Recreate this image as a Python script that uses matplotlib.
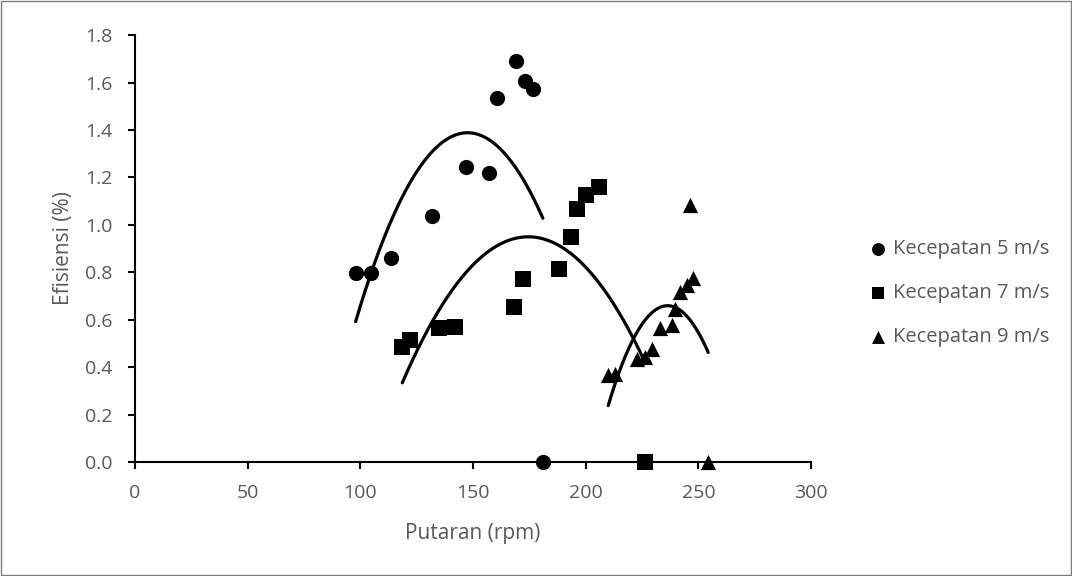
import numpy as np
import matplotlib.pyplot as plt

# data
rpm_5 = [97.9, 104.7, 113.7, 131.8, 147.1, 157.2, 160.6, 169.0, 173.0, 176.6, 181.0]
eff_5 = [0.797, 0.797, 0.861, 1.038, 1.245, 1.217, 1.535, 1.690, 1.606, 1.572, 0.0]

rpm_7 = [118.6, 122.1, 135.0, 142.0, 168.1, 172.3, 188.1, 193.4, 196.1, 200.1, 205.7, 226.3]
eff_7 = [0.483, 0.513, 0.563, 0.570, 0.654, 0.771, 0.813, 0.947, 1.068, 1.125, 1.158, 0.0]

rpm_9 = [210.0, 213.0, 222.6, 226.3, 229.5, 232.9, 238.1, 239.6, 241.8, 244.8, 247.7, 246.2, 254.4]
eff_9 = [0.366, 0.370, 0.436, 0.443, 0.478, 0.563, 0.577, 0.647, 0.717, 0.746, 0.774, 1.083, 0.0]

labels = ["Kecepatan 5 m/s", "Kecepatan 7 m/s", "Kecepatan 9 m/s"]
markers = ["o", "s", "^"]

plt.rcParams["font.family"] = ["Open Sans", "DejaVu Sans"]
gray = "#595959"

fig = plt.figure(figsize=(10.72, 5.76), dpi=100)
ax = fig.add_axes([0.126, 0.198, 0.6305, 0.741])

series = [(rpm_5, eff_5), (rpm_7, eff_7), (rpm_9, eff_9)]
handles = []
for (x, y), m, lab in zip(series, markers, labels):
    h = ax.scatter(x, y, marker=m, s=120, color="black", label=lab,
                   clip_on=False, zorder=3, linewidths=0)
    handles.append(h)
    # second order polynomial trendline
    coef = np.polyfit(x, y, 2)
    xs = np.linspace(min(x), max(x), 200)
    ax.plot(xs, np.polyval(coef, xs), color="black", lw=2.3, zorder=4,
            solid_capstyle="round")

ax.set_xlim(0, 300)
ax.set_ylim(0, 1.8)
ax.set_xticks(np.arange(0, 301, 50))
ax.set_yticks(np.arange(0, 1.81, 0.2))
ax.set_yticklabels([f"{v:.1f}" for v in np.arange(0, 1.81, 0.2)])
ax.spines["top"].set_visible(False)
ax.spines["right"].set_visible(False)
for s in ["left", "bottom"]:
    ax.spines[s].set_linewidth(1.5)
ax.tick_params(direction="out", length=5, width=1.5, labelsize=14,
               labelcolor=gray)
ax.tick_params(axis="y", pad=11)
ax.tick_params(axis="x", pad=11)
ax.set_xlabel("Putaran (rpm)", fontsize=15, color=gray, labelpad=15)
ax.set_ylabel("Efisiensi (%)", fontsize=15, color=gray, labelpad=8)

ax.legend(handles=handles, loc="center left", bbox_to_anchor=(0.793, 0.491),
          bbox_transform=fig.transFigure, frameon=False, fontsize=14.5,
          labelcolor=gray, handlelength=1.0, handletextpad=0.25,
          labelspacing=1.2, markerscale=0.85)

fig.patches.append(plt.Rectangle((0.001, 0.001), 0.998, 0.998, fill=False,
                                 edgecolor="#7f7f7f", lw=1,
                                 transform=fig.transFigure))

fig.savefig("out.png", dpi=100)
